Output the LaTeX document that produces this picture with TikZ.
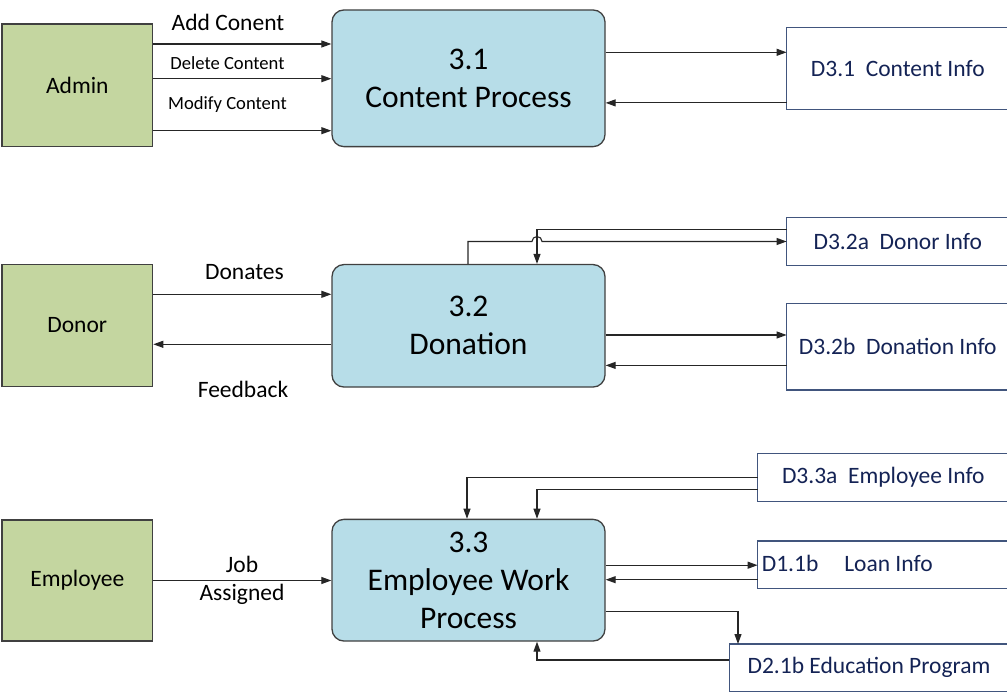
\documentclass[tikz,border=0pt]{standalone}
\usepackage{fontspec}
\setmainfont{Carlito}
\usetikzlibrary{positioning,arrows.meta}

\definecolor{entgreen}{RGB}{196,214,160}
\definecolor{entborder}{RGB}{64,64,64}
\definecolor{procblue}{RGB}{183,221,232}
\definecolor{storeborder}{RGB}{65,85,125}
\definecolor{storetext}{RGB}{20,35,85}

\begin{document}
\begin{tikzpicture}[x=1pt,y=-1pt,
        entity/.style={draw=entborder, line width=1.3pt, fill=entgreen, inner sep=0pt,
            minimum width=150.7pt, font=\fontsize{23.5}{28}\selectfont},
        proc/.style={draw=entborder, line width=1.3pt, fill=procblue, rounded corners=12pt,
            inner sep=0pt, minimum width=273pt, align=center, font=\fontsize{31.5}{38}\selectfont},
        store/.style={inner sep=0pt, text=storetext, font=\fontsize{23.5}{28}\selectfont},
        storeline/.style={draw=storeborder, line width=1.3pt},
        flow/.style={line width=1.1pt, draw=black!85, -{Triangle[length=10pt,width=7pt]}},
        lbl/.style={inner sep=0pt, font=\fontsize{23.5}{28}\selectfont},
        smalllbl/.style={inner sep=0pt, font=\fontsize{18.6}{22}\selectfont}]
        \useasboundingbox (0,0) rectangle (1007,692);

        % external entities
        \node[entity, minimum height=122.7pt] (admin) at (77.3,85.3) {Admin};
        \node[entity, minimum height=122.4pt] (donor) at (77.3,325.5) {Donor};
        \node[entity, minimum height=121pt] (employee) at (77.3,580.5) {Employee};

        % processes
        \node[proc, minimum height=136.7pt] (p31) at (468.5,78.3) {3.1\\Content Process};
        \node[proc, minimum height=122.5pt] (p32) at (468.5,325.8) {3.2\\Donation};
        \node[proc, minimum height=121.7pt] (p33) at (468.5,580.2) {3.3\\Employee Work\\Process};

        % data stores (open on the right)
        \node[store, anchor=west, minimum width=222pt, minimum height=81.3pt] (d31) at (786.6,68.4) {D3.1~~Content Info\hspace{8pt}};
        \node[store, anchor=west, minimum width=222pt, minimum height=47.1pt] (d32a) at (786.6,241.5) {D3.2a~~Donor Info\hspace{10pt}};
        \node[store, anchor=west, minimum width=222pt, minimum height=85.7pt] (d32b) at (786.6,346.9) {D3.2b~~Donation Info\hspace{8pt}};
        \node[store, anchor=west, minimum width=251pt, minimum height=47.9pt] (d33a) at (757.6,477.5) {D3.3a~~Employee Info\hspace{8pt}};
        \node[store, anchor=west, minimum width=251pt, minimum height=47.3pt] (d11b) at (757.6,564.9) {\raisebox{4pt}{\makebox[243pt][l]{D1.1b\hspace{26pt}Loan Info}}};
        \node[store, anchor=west, minimum width=279pt, minimum height=47.2pt] (d22b) at (729.3,667.8) {D2.1b Education Program\hspace{4pt}};
        \foreach \s in {d31,d32a,d32b,d33a,d11b,d22b}
            \draw[storeline] (\s.north east) -- (\s.north west) -- (\s.south west) -- (\s.south east);

        % admin flows
        \draw[flow] (admin.east |- 0,44) -- (p31.west |- 0,44);
        \draw[flow] (admin.east |- 0,78.7) -- (p31.west |- 0,78.7);
        \draw[flow] (admin.east |- 0,130.7) -- (p31.west |- 0,130.7);
        \node[lbl] (addc) at (228,22.7) {Add Conent};
        \node[smalllbl] (delc) at (227.5,63.3) {Delete Content};
        \node[smalllbl] (modc) at (227.5,105) {Modify Content};

        \draw[flow] (p31.east |- 0,52.3) -- (d31.west |- 0,52.3);
        \draw[flow] (d31.west |- 0,102.9) -- (p31.east |- 0,102.9);

        % donor flows
        \draw[flow] (donor.east |- 0,294.3) -- (p32.west |- 0,294.3);
        \draw[flow] (p32.west |- 0,344.3) -- (donor.east |- 0,344.3);
        \node[lbl] (donates) at (244.5,272) {Donates};
        \node[lbl] (feedback) at (243,389) {Feedback};

        \draw[flow] (p32.north -| 468,0) -- (468,241.5) -- (532,241.5)
            arc[start angle=180, end angle=360, radius=5] -- (d32a.west |- 0,241.5);
        \draw[flow] (d32a.west |- 0,229.7) -- (537,229.7) -- (p32.north -| 537,0);
        \draw[flow] (p32.east |- 0,335) -- (d32b.west |- 0,335);
        \draw[flow] (d32b.west |- 0,365.4) -- (p32.east |- 0,365.4);

        % employee flows
        \draw[flow] (employee.east |- 0,580.5) -- (p33.west |- 0,580.5);
        \node[lbl, align=center] (job) at (242,580.5) {Job\\Assigned};

        \draw[flow] (d33a.west |- 0,477.8) -- (467,477.8) -- (p33.north -| 467,0);
        \draw[flow] (d33a.west |- 0,489.6) -- (537,489.6) -- (p33.north -| 537,0);
        \draw[flow] (p33.east |- 0,565.2) -- (d11b.west |- 0,565.2);
        \draw[flow] (d11b.west |- 0,579.7) -- (p33.east |- 0,579.7);
        \draw[flow] (p33.east |- 0,611.4) -- (738,611.4) -- (d22b.north -| 738,0);
        \draw[flow] (d22b.west |- 0,660) -- (537,660) -- (p33.south -| 537,0);
    \end{tikzpicture}
\end{document}
